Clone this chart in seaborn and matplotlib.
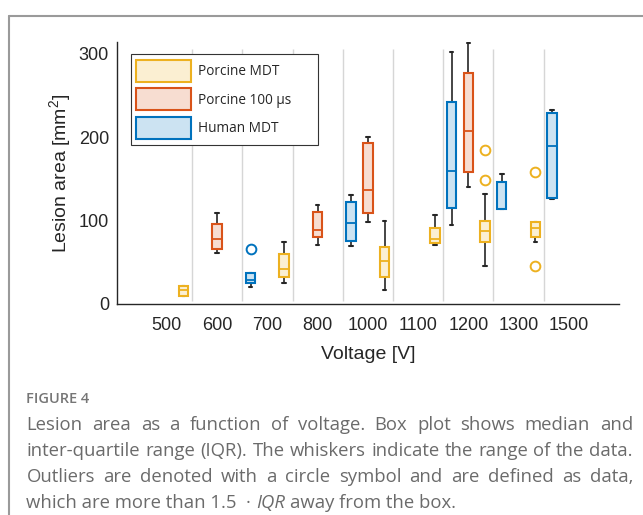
import numpy as np
import pandas as pd
import matplotlib
matplotlib.use("Agg")
import matplotlib.pyplot as plt
import seaborn as sns
from matplotlib.patches import Patch
from matplotlib.lines import Line2D

# ---------------- data ----------------
categories = ["500", "600", "700", "800", "1000", "1100", "1200", "1300", "1500"]
legend_order = ["Porcine MDT", "Porcine 100 µs", "Human MDT"]
hue_order = ["Human MDT", "Porcine 100 µs", "Porcine MDT"]

porcine_mdt = {
    "500": [10, 10, 10, 16.5, 16.5, 22, 22, 22, 22],
    "700": [25.5, 32.7, 32.7, 41.5, 41.5, 59.4, 59.4, 74.2, 74.2],
    "1000": [16.4, 32.3, 32.3, 51.4, 51.4, 68.6, 68.6, 100.1, 100.1],
    "1100": [70.6, 73.4, 73.4, 77.8, 77.8, 91.3, 91.3, 107.3, 107.3],
    "1200": [45, 74, 74, 74, 87, 87, 87, 100, 100, 100, 131.7, 148.6, 184.7],
    "1300": [45.8, 74.5, 80.5, 91, 91, 98, 98, 98, 158.3],
}
porcine_100us = {
    "600": [61.4, 66.2, 66.2, 78.1, 78.1, 95.7, 95.7, 109.7, 109.7],
    "800": [70.2, 80.1, 80.1, 89.3, 89.3, 110.4, 110.4, 119.2, 119.2],
    "1000": [98.5, 109.7, 109.7, 136.4, 136.4, 193, 193, 199.8, 199.8],
    "1200": [140.3, 157.9, 157.9, 207.7, 207.7, 276.7, 276.7, 313.5, 313.5],
}
human_mdt = {
    "700": [20, 24.8, 24.8, 28.5, 28.5, 36.7, 36.7, 36.7, 65.4],
    "1000": [69.8, 75.4, 75.4, 97.7, 97.7, 122, 122, 130.4, 130.4],
    "1200": [95.3, 115.7, 115.7, 159.1, 159.1, 242, 242, 301.8, 301.8],
    "1300": [113.6, 113.6, 113.6, 113.6, 113.6, 145.9, 145.9, 156.3, 156.3],
    "1500": [125.6, 127.2, 127.2, 189.4, 189.4, 228.5, 228.5, 232.9, 232.9],
}

y_ticks = [0, 100, 200, 300]

edge_colors = {"Porcine MDT": "#EDB120", "Porcine 100 µs": "#D95319", "Human MDT": "#0072BD"}
fill_colors = {"Porcine MDT": "#FBEFD2", "Porcine 100 µs": "#F7DDD1", "Human MDT": "#CCE3F2"}

caption_title = "FIGURE 4"
caption_lines = [
    "Lesion area as a function of voltage. Box plot shows median and",
    "inter-quartile range (IQR). The whiskers indicate the range of the data.",
    "Outliers are denoted with a circle symbol and are defined as data,",
]
caption_last = [("which are more than 1.5  \u00b7 ", "normal"), ("IQR", "italic"),
                (" away from the box.", "normal")]

# ---------------- frame ----------------
rows = []
for name, groups in [("Porcine MDT", porcine_mdt), ("Porcine 100 µs", porcine_100us),
                     ("Human MDT", human_mdt)]:
    for cat, vals in groups.items():
        for v in vals:
            rows.append({"voltage": cat, "area": v, "group": name})
df = pd.DataFrame(rows)

sns.set_style("white")
plt.rcParams["font.family"] = ["Liberation Sans", "DejaVu Sans"]
plt.rcParams["mathtext.fontset"] = "custom"
plt.rcParams["mathtext.rm"] = "Liberation Sans"
plt.rcParams["mathtext.it"] = "Liberation Sans:italic"

W, H = 643, 515
fig = plt.figure(figsize=(W / 100, H / 100), dpi=100)
ax = fig.add_axes([116.7 / W, 1 - 304 / H, (619 - 116.7) / W, (304 - 41.7) / H])

ink = "#262626"
sns.boxplot(data=df, x="voltage", y="area", hue="group", order=categories,
            hue_order=hue_order, palette=fill_colors, width=1.0, gap=0.44,
            dodge=True, whis=1.5, linewidth=1.5, linecolor=ink, legend=False,
            flierprops=dict(marker="o", markersize=7, markeredgewidth=1.4,
                            markerfacecolor="none"),
            ax=ax)

for c in ax.containers:
    if not hasattr(c, "boxes"):
        continue
    xs = c.boxes[0].get_path().vertices[:, 0]
    center = (xs.min() + xs.max()) / 2
    off = center - np.round(center)
    idx = int(np.round((off + 1 / 3) * 3))
    name = hue_order[idx]
    col = edge_colors[name]
    for b in c.boxes:
        b.set_edgecolor(col)
        b.set_facecolor(fill_colors[name])
        b.set_linewidth(1.5)
        b.set_zorder(3)
    for m in c.medians:
        m.set_color(col)
        m.set_linewidth(1.3)
        m.set_zorder(4)
    for w in c.whiskers:
        w.set_color(ink)
        w.set_linewidth(1.2)
        w.set_zorder(2)
    for cp in c.caps:
        xd = cp.get_xdata()
        cc = (xd[0] + xd[1]) / 2
        cp.set_xdata([cc - 0.035, cc + 0.035])
        cp.set_color(ink)
        cp.set_linewidth(1.5)
        cp.set_zorder(2.5)
    for f in c.fliers:
        f.set_markeredgecolor(col)
        f.set_markerfacecolor("none")
        f.set_zorder(5)

ax.vlines(np.arange(len(categories) - 1) + 0.5, 4, 306, colors="#d6d6d6",
          linewidth=1.0, zorder=1)

ax.set_xlim(-1, len(categories))
ax.set_ylim(0, 314.5)
ax.set_yticks(y_ticks)
ax.set_xlabel("Voltage [V]", fontsize=14, labelpad=9, color=ink)
ax.set_ylabel(r"Lesion area [mm$^2$]", fontsize=14, labelpad=4, color=ink)
for s in ["top", "right"]:
    ax.spines[s].set_visible(False)
for s in ["left", "bottom"]:
    ax.spines[s].set_color(ink)
    ax.spines[s].set_linewidth(1.0)
ax.tick_params(direction="in", length=4.5, width=1, colors=ink, labelsize=13)
ax.tick_params(axis="x", pad=9)
ax.tick_params(axis="y", pad=5.5)
ax.grid(False)

handles = [Patch(facecolor=fill_colors[n], edgecolor=edge_colors[n], linewidth=1.5)
           for n in legend_order]
leg = ax.legend(handles, legend_order, loc="upper left",
                bbox_to_anchor=(0.0279, 0.0, 0.3729, 0.952), mode="expand",
                borderaxespad=0, frameon=True, fancybox=False, framealpha=1,
                edgecolor="#333333", prop={"family": "Open Sans", "size": 9.8},
                handlelength=4.0, handleheight=2.1, labelspacing=0.5,
                handletextpad=0.55, borderpad=0.4)
leg.get_frame().set_linewidth(0.8)
leg.set_zorder(10)

# ---------------- page frame ----------------
fig.add_artist(Line2D([9 / W, 1], [1 - 16 / H, 1 - 16 / H], transform=fig.transFigure,
                      color="#9a9a9a", linewidth=1.5))
fig.add_artist(Line2D([9 / W, 9 / W], [0, 1 - 16 / H], transform=fig.transFigure,
                      color="#9a9a9a", linewidth=1.5))

# ---------------- caption ----------------
cap_col = "#6b6b6b"
cap_font = "Open Sans"
cap_size = 13.3
x_left, x_right = 26.5, 633
fig.text(x_left / W, 1 - 403 / H, caption_title, fontsize=10.5, color="#767676",
         family=cap_font, weight="semibold", va="baseline", ha="left")

fig.canvas.draw()
renderer = fig.canvas.get_renderer()


def width_px(t):
    return t.get_window_extent(renderer).width


probe1 = fig.text(0, 0, "a a", fontsize=cap_size, family=cap_font)
probe2 = fig.text(0, 0, "aa", fontsize=cap_size, family=cap_font)
space_w = width_px(probe1) - width_px(probe2)
probe1.remove()
probe2.remove()

baselines = [430, 456, 482, 508]
for line, yb in zip(caption_lines, baselines):
    words = line.split(" ")
    texts = [fig.text(0, 1 - yb / H, w, fontsize=cap_size, family=cap_font,
                      color=cap_col, va="baseline", ha="left") for w in words]
    widths = [width_px(t) for t in texts]
    gap = (x_right - x_left - sum(widths)) / (len(words) - 1)
    x = x_left
    for t, w in zip(texts, widths):
        t.set_x(x / W)
        x += w + gap

x = x_left
yb = baselines[3]
for piece, style in caption_last:
    lead = len(piece) - len(piece.lstrip(" "))
    trail = len(piece) - len(piece.rstrip(" "))
    x += lead * space_w
    t = fig.text(x / W, 1 - yb / H, piece.strip(" "), fontsize=cap_size,
                 family=cap_font, color=cap_col, style=style, va="baseline", ha="left")
    x += width_px(t) + trail * space_w

fig.savefig("out.png", dpi=100)
